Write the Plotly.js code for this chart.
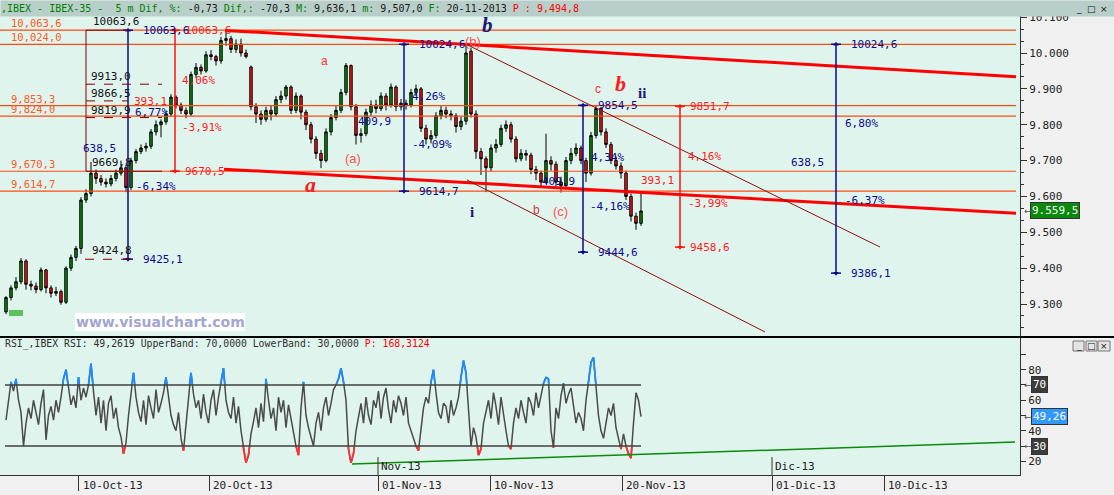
<!DOCTYPE html>
<html><head><meta charset="utf-8">
<script src="https://cdn.plot.ly/plotly-3.0.1.min.js"></script>
<style>html,body{margin:0;padding:0;background:#f0f0f0;}#chart{width:1114px;height:495px;}</style>
</head><body><div id="chart"></div>
<script>
// ---------------- DATA ----------------
const openP = [9278,9318,9345,9362,9420,9355,9350,9340,9395,9345,
9330,9335,9305,9400,9430,9455,9590,9608,9665,9650,
9640,9635,9650,9665,9680,9625,9700,9725,9735,9740,
9780,9800,9808,9830,9877,9855,9840,9830,9940,9960,
9950,9995,9990,9978,10035,10040,10010,10025,10000,9961,
9850,9830,9815,9840,9830,9870,9880,9905,9840,9880,
9835,9800,9760,9720,9700,9780,9820,9840,9890,9965,
9850,9770,9775,9835,9855,9845,9880,9855,9905,9850,
9860,9855,9890,9900,9790,9760,9770,9825,9840,9830,
9825,9795,9810,10005,9830,9725,9705,9680,9735,9745,
9790,9800,9760,9705,9720,9715,9675,9665,9640,9700,
9690,9640,9630,9700,9720,9735,9700,9665,9770,9845,
9780,9745,9700,9685,9665,9600,9545,9525];
const highP = [9322,9352,9375,9428,9425,9365,9360,9402,9398,9352,
9348,9340,9405,9438,9462,9598,9620,9696,9675,9660,
9650,9660,9675,9700,9688,9708,9732,9745,9750,9788,
9812,9815,9840,9885,9882,9862,9848,9948,9972,9968,
10005,10008,9995,10045,10063.6,10048,10038,10040,10010,9965,
9860,9840,9850,9855,9880,9895,9911,9910,9890,9885,
9842,9808,9768,9730,9790,9830,9852,9900,9972,9968,
9858,9790,9845,9868,9870,9890,9888,9915,9910,9872,
9870,9900,9912,9905,9800,9785,9835,9852,9850,9840,
9832,9822,10024.6,10015,9840,9735,9712,9745,9760,9800,
9812,9808,9768,9732,9730,9722,9685,9672,9775,9712,
9698,9655,9710,9735,9748,9742,9708,9780,9854.5,9850,
9790,9752,9712,9695,9672,9608,9555,9610];
const lowP = [9272,9310,9338,9355,9340,9338,9330,9335,9330,9318,
9322,9298,9300,9392,9420,9440,9582,9600,9635,9630,
9625,9628,9642,9658,9612,9618,9692,9718,9725,9732,
9770,9765,9800,9822,9845,9830,9818,9825,9930,9940,
9945,9980,9965,9970,10020,10000,10000,9990,9985,9840,
9805,9800,9808,9812,9822,9860,9870,9830,9832,9815,
9785,9748,9705,9679,9695,9770,9812,9832,9882,9840,
9745,9750,9768,9825,9832,9838,9840,9848,9838,9840,
9842,9848,9880,9780,9745,9748,9762,9815,9818,9812,
9778,9785,9800,9820,9705,9660,9612,9670,9722,9738,
9780,9750,9695,9698,9700,9662,9645,9625,9635,9672,
9628,9611,9625,9690,9712,9690,9640,9658,9762,9770,
9735,9690,9675,9650,9590,9530,9507,9518];
const closeP = [9318,9345,9362,9420,9355,9350,9340,9395,9345,9330,
9335,9305,9400,9430,9455,9590,9608,9665,9650,9640,
9635,9650,9665,9680,9625,9700,9725,9735,9740,9780,
9800,9808,9830,9877,9855,9840,9830,9940,9960,9950,
9995,9990,9978,10035,10040,10010,10025,10000,9990,9850,
9830,9815,9840,9830,9870,9880,9905,9840,9880,9835,
9800,9760,9720,9700,9780,9820,9840,9890,9965,9850,
9770,9775,9835,9855,9845,9880,9855,9905,9850,9860,
9855,9890,9900,9790,9760,9770,9825,9840,9830,9825,
9795,9810,10000,9830,9725,9705,9680,9735,9745,9790,
9800,9760,9705,9720,9715,9675,9665,9640,9700,9690,
9640,9630,9700,9720,9735,9700,9665,9770,9845,9780,
9745,9700,9685,9665,9600,9545,9525,9559.5];
// RSI, two readings per price bar
const rsi = [47,58,72,66,74,60,52,30,45,55,48,60,52,44,58,67,34,50,56,47,
60,52,62,74,80,68,57,63,55,75,60,68,62,70,84,66,50,62,45,60,
40,58,63,48,55,42,36,25,32,50,66,78,62,52,46,60,44,63,55,48,
67,52,58,65,75,62,50,44,40,52,35,27,45,65,78,64,55,60,48,64,
52,45,60,67,50,62,72,81,60,52,48,62,45,56,40,28,19,24,38,46,
55,42,58,46,74,60,48,55,40,62,52,60,42,57,48,38,30,24,55,72,
50,42,36,30,45,52,40,55,62,50,58,67,70,74,81,72,60,28,19,25,
40,48,58,45,62,50,44,60,55,66,48,62,68,54,45,60,52,63,58,50,
62,45,40,35,30,27,42,55,62,58,72,80,65,52,48,58,56,45,60,50,
55,62,75,86,78,55,30,42,36,24,28,45,52,60,48,65,56,44,62,50,
40,30,28,45,55,48,60,52,45,62,58,50,65,55,62,71,75,74,40,29,
55,48,63,71,58,64,68,55,45,52,48,40,60,72,85,88,70,50,40,35,
45,55,50,58,42,35,28,38,30,25,22,45,65,60,49.26];
const rsiUpper = 70, rsiLower = 30;
const dateTickText = ['10-Oct-13','20-Oct-13','01-Nov-13','10-Nov-13','20-Nov-13','01-Dic-13','10-Dic-13'];
const dateTickPos = [14.5, 40.6, 74.4, 96.8, 123.2, 153.2, 175.6];
const monthMarks = ['Nov-13','Dic-13'];
const monthMarkPos = [74.4, 153.2];
const priceTicks = [9300,9400,9500,9600,9700,9800,9900,10000,10100];
const priceTickText = ['9.300','9.400','9.500','9.600','9.700','9.800','9.900','10.000','10.100'];
const levelValues = [10063.6, 10024.0, 9853.3, 9824.0, 9670.3, 9614.7];
const levelLabels = ['10,063,6','10,024,0','9,853,3','9,824,0','9,670,3','9,614,7'];
const trendTopX = [43.8, 202], trendTopY = [10063, 9934];
const trendBotX = [43.6, 202], trendBotY = [9676, 9553];
const chanTopX = [92, 174.8], chanTopY = [10024.6, 9459];
const chanBotX = [92.2, 151.8], chanBotY = [9646, 9222];
const blueMeasX = [24.4, 79.6, 115.4, 166];
const blueMeasTop = [10063.6, 10024.6, 9854.5, 10024.6];
const blueMeasBot = [9425.1, 9614.7, 9444.6, 9386.1];
const redMeasX = [33.8, 134.8];
const redMeasTop = [10063.6, 9851.7];
const redMeasBot = [9670.5, 9458.6];
const fibBoxX = [16, 24.4, 31.2];
const fibLevels = [9913.0, 9866.5, 9819.9];
const fibEnds = [31.2, 24.4, 31.2];
const fibLow = 9424.8;
const rsiTrendX = [69.2, 201.8], rsiTrendY = [18.2, 32.6];
const lastPrice = 9559.5, lastRsi = 49.26;

// ---------------- HELPERS ----------------
const W = 1114, H = 495;
const MONO = 'DejaVu Sans Mono, monospace';
const ix = p => (p - 6) / 5;                 // pixel column -> bar index (layout helper)
const pv = y => 10000 - (y - 53) * 2.789;    // pixel row -> price (layout helper)
const rv = y => 70 - (y - 385) / 1.525;      // pixel row -> RSI value (layout helper)
const yp = y => (H - y) / H;                 // pixel row -> paper

const bars = closeP.map((_, i) => i);
const rsiX = rsi.map((_, k) => k / 2);

function clip(xs, ys, thr, above) {
  const X = [], Y = [];
  const out = v => above ? v > thr : v < thr;
  for (let k = 0; k < ys.length - 1; k++) {
    const a = ys[k], b = ys[k + 1], xa = xs[k], xb = xs[k + 1];
    if (!out(a) && !out(b)) continue;
    let x0 = xa, y0 = a, x1 = xb, y1 = b;
    const t = (thr - a) / (b - a);
    if (!out(a)) { x0 = xa + t * (xb - xa); y0 = thr; }
    if (!out(b)) { x1 = xa + t * (xb - xa); y1 = thr; }
    X.push(x0, x1, null); Y.push(y0, y1, null);
  }
  return {X, Y};
}
const hi = clip(rsiX, rsi, rsiUpper, true);
const lo = clip(rsiX, rsi, rsiLower, false);

const traces = [
  {type:'candlestick', x:bars, open:openP, high:highP, low:lowP, close:closeP,
   xaxis:'x', yaxis:'y', whiskerwidth:0,
   increasing:{line:{color:'#000000', width:1}, fillcolor:'#0c900c'},
   decreasing:{line:{color:'#000000', width:1}, fillcolor:'#ff1414'},
   showlegend:false, hoverinfo:'skip'},
  {type:'scatter', mode:'lines', x:rsiX, y:rsi, xaxis:'x', yaxis:'y2',
   line:{color:'#4a4a4a', width:1.5}, showlegend:false, hoverinfo:'skip'},
  {type:'scatter', mode:'lines', x:hi.X, y:hi.Y, xaxis:'x', yaxis:'y2', connectgaps:false,
   line:{color:'#1e8cff', width:1.8}, showlegend:false, hoverinfo:'skip'},
  {type:'scatter', mode:'lines', x:lo.X, y:lo.Y, xaxis:'x', yaxis:'y2', connectgaps:false,
   line:{color:'#ff3030', width:1.8}, showlegend:false, hoverinfo:'skip'},
  // measurement arrow heads
  {type:'scatter', mode:'markers', x:blueMeasX.concat(blueMeasX), y:blueMeasTop.concat(blueMeasBot),
   xaxis:'x', yaxis:'y', marker:{symbol:blueMeasX.map(()=> 'triangle-up').concat(blueMeasX.map(()=>'triangle-down')), size:5, color:'#0a0a8c'},
   showlegend:false, hoverinfo:'skip'},
  {type:'scatter', mode:'markers', x:redMeasX.concat(redMeasX), y:redMeasTop.concat(redMeasBot),
   xaxis:'x', yaxis:'y', marker:{symbol:redMeasX.map(()=> 'triangle-up').concat(redMeasX.map(()=>'triangle-down')), size:5, color:'#ff1010'},
   showlegend:false, hoverinfo:'skip'}
];

const shapes = [];
const L = (x0,y0,x1,y1,color,width,dash,xref,yref) => shapes.push({type:'line', xref:xref||'x', yref:yref||'y', x0,y0,x1,y1, line:{color, width, dash:dash||'solid'}, layer:'above'});

// horizontal levels
levelValues.forEach(v => L(-1.2, v, 202, v, '#ff4a10', 1.2));
// thick trend lines
L(trendTopX[0], trendTopY[0], trendTopX[1], trendTopY[1], '#ff0000', 3);
L(trendBotX[0], trendBotY[0], trendBotX[1], trendBotY[1], '#ff0000', 3);
// thin channel
L(chanTopX[0], chanTopY[0], chanTopX[1], chanTopY[1], '#8b1010', 1);
L(chanBotX[0], chanBotY[0], chanBotX[1], chanBotY[1], '#8b1010', 1);
// measurement lines
blueMeasX.forEach((x,i) => {
  L(x, blueMeasTop[i], x, blueMeasBot[i], '#0a0a8c', 1.5);
  L(x-1, blueMeasTop[i], x+1, blueMeasTop[i], '#0a0a8c', 1.5);
  L(x-1, blueMeasBot[i], x+1, blueMeasBot[i], '#0a0a8c', 1.5);
});
redMeasX.forEach((x,i) => {
  L(x, redMeasTop[i], x, redMeasBot[i], '#ff1010', 1.5);
  L(x-1, redMeasTop[i], x+1, redMeasTop[i], '#ff1010', 1.5);
  L(x-1, redMeasBot[i], x+1, redMeasBot[i], '#ff1010', 1.5);
});
// fib box
L(fibBoxX[0], levelValues[0], fibBoxX[0], levelValues[4], '#800000', 1);
L(fibBoxX[0], levelValues[0], fibBoxX[1], levelValues[0], '#800000', 1);
L(fibBoxX[0], levelValues[4], fibBoxX[2], levelValues[4], '#800000', 1);
fibLevels.forEach((v,i) => L(fibBoxX[0], v, fibEnds[i], v, '#800000', 1, 'dash'));
L(fibBoxX[0]-0.2, fibLow, 25.4, fibLow, '#800000', 1, 'dash');
// RSI bands & trend
L(-0.2, rsiUpper, 127, rsiUpper, '#404040', 1.5, 'solid', 'x', 'y2');
L(-0.2, rsiLower, 127, rsiLower, '#404040', 1.5, 'solid', 'x', 'y2');
L(rsiTrendX[0], rsiTrendY[0], rsiTrendX[1], rsiTrendY[1], '#0a8a0a', 1.5, 'solid', 'x', 'y2');
monthMarkPos.forEach(x => L(x, rv(457), x, 11, '#333', 1, 'solid', 'x', 'y2'));
// separator
L(0, yp(337), 1, yp(337), '#000000', 2, 'solid', 'paper', 'paper');
// watermark box & start marker
shapes.push({type:'rect', xref:'paper', yref:'paper', x0:75/W, x1:245/W, y0:yp(331), y1:yp(313), fillcolor:'#ffffff', line:{width:0}, layer:'above'});
shapes.push({type:'rect', xref:'paper', yref:'paper', x0:9/W, x1:23/W, y0:yp(316), y1:yp(310), fillcolor:'#5cc05c', line:{width:0}, layer:'above'});
// window buttons
[[1073,1084],[1086,1097],[1098,1110]].forEach(b => {
  [[3,14],[341,351]].forEach(r => shapes.push({type:'rect', xref:'paper', yref:'paper', x0:b[0]/W, x1:b[1]/W, y0:yp(r[1]), y1:yp(r[0]), fillcolor:'#e4e4e4', line:{color:'#777', width:1}, layer:'above'}));
});

const ann = [];
const T = (text, x, y, color, o) => ann.push(Object.assign({text, x, y, xref:'x', yref:'y', showarrow:false, xanchor:'left', yanchor:'middle', font:{family:MONO, size:11, color}}, o||{}));

// header
ann.push({xref:'paper', yref:'paper', x:0, y:1, xanchor:'left', yanchor:'top', width:W, height:15, align:'left', bgcolor:'#b8cec8', borderpad:0, showarrow:false,
  font:{family:MONO, size:10, color:'#1a1a1a'},
  text:'<span style="color:#008000">,IBEX - IBEX-35 -  5 m Dif, %:</span> -0,73 <span style="color:#008000">Dif,:</span> -70,3 <span style="color:#008000">M:</span> 9,636,1 <span style="color:#008000">m:</span> 9,507,0 <span style="color:#008000">F:</span> 20-11-2013 <span style="color:#ff0000">P : 9,494,8</span>'});
// window button glyphs
[['_',1078.5],['□',1091.5],['×',1104]].forEach(g => [8.5, 346].forEach(y => ann.push({xref:'paper', yref:'paper', x:g[1]/W, y:yp(y), xanchor:'center', yanchor:'middle', text:g[0], showarrow:false, font:{family:'DejaVu Sans', size:9, color:'#111'}})));
// RSI title
ann.push({xref:'paper', yref:'paper', x:3/W, y:yp(344), xanchor:'left', yanchor:'middle', showarrow:false,
  font:{family:MONO, size:9.8, color:'#303030'},
  text:'RSI_,IBEX RSI: 49,2619 UpperBand: 70,0000 LowerBand: 30,0000 <span style="color:#ff0000">P: 168,3124</span>'});
// level labels
levelValues.forEach((v,i) => T(levelLabels[i], ix(10), v, '#ff5a1e', {yanchor:'bottom', borderpad:0, font:{family:MONO, size:10.5, color:'#ff5a1e'}}));
// fib labels (black)
T('10063,6', ix(91), levelValues[0], '#111', {yanchor:'bottom'});
fibLevels.forEach(v => T(v.toFixed(1).replace('.',','), ix(90), v, '#111', {yanchor:'bottom', borderpad:0}));
T('9669,8', ix(90), levelValues[4], '#111', {yanchor:'bottom'});
T('9424,8', ix(90), fibLow, '#111', {yanchor:'bottom'});
// blue measurement labels
const B = '#0a0a8c', R = '#ff1a1a';
blueMeasX.forEach((x,i) => {
  T(blueMeasTop[i].toFixed(1).replace('.',','), x+2.5, blueMeasTop[i], B);
  T(blueMeasBot[i].toFixed(1).replace('.',','), x+2.5, blueMeasBot[i], B);
});
T('638,5', ix(118), pv(148), B, {xanchor:'right'});
T('6,77%', ix(134), pv(112), B, {borderpad:0});
T('-6,34%', ix(134), pv(186), B);
T('409,9', ix(393), pv(121), B, {xanchor:'right'});
T('4,26%', ix(410), pv(96), B);
T('-4,09%', ix(410), pv(144), B);
T('409,9', ix(577), pv(181), B, {xanchor:'right'});
T('4,34%', ix(589), pv(157), B);
T('-4,16%', ix(588), pv(206), B);
T('6,80%', ix(843), pv(123), B);
T('638,5', ix(826), pv(162), B, {xanchor:'right'});
T('-6,37%', ix(843), pv(200), B);
// red measurement labels
redMeasX.forEach((x,i) => {
  T(redMeasTop[i].toFixed(1).replace('.',','), x+1.6, redMeasTop[i], R);
  T(redMeasBot[i].toFixed(1).replace('.',','), x+1.6, redMeasBot[i], R);
});
T('4,06%', ix(180), pv(80), R);
T('393,1', ix(133), pv(101), R, {borderpad:0});
T('-3,91%', ix(180), pv(127), R);
T('4,16%', ix(686), pv(156), R);
T('393,1', ix(639), pv(180), R);
T('-3,99%', ix(686), pv(203), R);
// Elliott wave labels
const EW = (text, px, py, color, size, fam) => T(text, ix(px), pv(py), color, {xanchor:'center', borderpad:0, font:{family:fam, size, color}});
EW('<b><i>b</i></b>', 487, 25, '#1a1a6e', 21, 'Liberation Serif');
EW('(b)', 473, 41, '#ff5050', 13, 'Liberation Sans');
EW('a', 324, 61, '#ff3030', 12, 'Liberation Sans');
EW('<b><i>b</i></b>', 620, 83, '#ff1a1a', 22, 'Liberation Serif');
EW('c', 598, 89, '#ff3030', 12, 'Liberation Sans');
EW('<b>ii</b>', 642, 93, '#1a1a6e', 15, 'Liberation Serif');
EW('(a)', 353, 158, '#ff5050', 13, 'Liberation Sans');
EW('<b><i>a</i></b>', 310, 184, '#ff1a1a', 22, 'Liberation Serif');
EW('<b>i</b>', 472, 212, '#1a1a6e', 15, 'Liberation Serif');
EW('b', 536, 210, '#d04040', 12, 'Liberation Sans');
EW('(c)', 560, 211, '#ff5050', 13, 'Liberation Sans');
// watermark
ann.push({xref:'paper', yref:'paper', x:160/W, y:yp(322), xanchor:'center', yanchor:'middle', showarrow:false, text:'<b>www.visualchart.com</b>', font:{family:'DejaVu Sans', size:14, color:'#a2a6d0'}});
// date labels
dateTickPos.forEach((x,i) => ann.push({xref:'x', yref:'paper', x, y:yp(485), xanchor:'left', yanchor:'middle', xshift:2, showarrow:false, text:dateTickText[i], font:{family:MONO, size:11, color:'#222'}}));
monthMarkPos.forEach((x,i) => ann.push({xref:'x', yref:'y2', x, y:rv(466), xanchor:'left', yanchor:'middle', xshift:1, showarrow:false, text:monthMarks[i], font:{family:MONO, size:11, color:'#222'}}));
// axis value boxes
ann.push({xref:'paper', yref:'y', x:1030/W, y:lastPrice, xanchor:'left', yanchor:'middle', showarrow:false, text:'9.559,5', bgcolor:'#0a8a0a', bordercolor:'#333', borderwidth:1, borderpad:1, font:{family:MONO, size:11, color:'#ffffff'}});
ann.push({xref:'paper', yref:'y', x:1022/W, y:lastPrice, xanchor:'left', yanchor:'middle', showarrow:false, text:'←', font:{family:'DejaVu Sans', size:9, color:'#555'}});
[[rsiUpper,'70','#3c3c3c'],[lastRsi,'49,26','#3399ff'],[rsiLower,'30','#3c3c3c']].forEach(b => {
  ann.push({xref:'paper', yref:'y2', x:1031/W, y:b[0], xanchor:'left', yanchor:'middle', showarrow:false, text:b[1], bgcolor:b[2], bordercolor:'#333', borderwidth:1, borderpad:1, font:{family:MONO, size:11, color:'#ffffff'}});
  ann.push({xref:'paper', yref:'y2', x:1022/W, y:b[0], xanchor:'left', yanchor:'middle', showarrow:false, text:'←', font:{family:'DejaVu Sans', size:9, color:'#555'}});
});

const layout = {
  width:W, height:H, margin:{l:0, r:0, t:0, b:0},
  paper_bgcolor:'#f0f0f0', plot_bgcolor:'#e0f4ee', showlegend:false, hovermode:false,
  xaxis:{domain:[0, 1020/W], range:[-1.2, 202.8], anchor:'y2', showgrid:false, zeroline:false,
    showline:true, linecolor:'#333', linewidth:1, ticks:'outside', ticklen:15, tickcolor:'#333',
    tickmode:'array', tickvals:dateTickPos, showticklabels:false, rangeslider:{visible:false}, fixedrange:true},
  yaxis:{domain:[yp(337), yp(15)], range:[9208, 10106], side:'right', anchor:'x', showgrid:false, zeroline:false,
    showline:true, linecolor:'#333', linewidth:1, ticks:'outside', ticklen:6, tickcolor:'#333',
    tickmode:'array', tickvals:priceTicks, ticktext:priceTickText, tickfont:{family:MONO, size:11, color:'#222'},
    minor:{tickmode:'linear', tick0:9300, dtick:100/3, ticks:'outside', ticklen:3, tickcolor:'#333'}},
  yaxis2:{domain:[yp(475), yp(338)], range:[11, 100.8], side:'right', anchor:'x', showgrid:false, zeroline:false,
    showline:true, linecolor:'#333', linewidth:1, ticks:'outside', ticklen:5, tickcolor:'#333',
    tickmode:'array', tickvals:[20,30,40,50,60,70,80,90], ticktext:['20','','40','','60','','80',''],
    tickfont:{family:MONO, size:11, color:'#222'}},
  shapes, annotations:ann
};
Plotly.newPlot('chart', traces, layout, {staticPlot:true, displayModeBar:false});
</script></body></html>
